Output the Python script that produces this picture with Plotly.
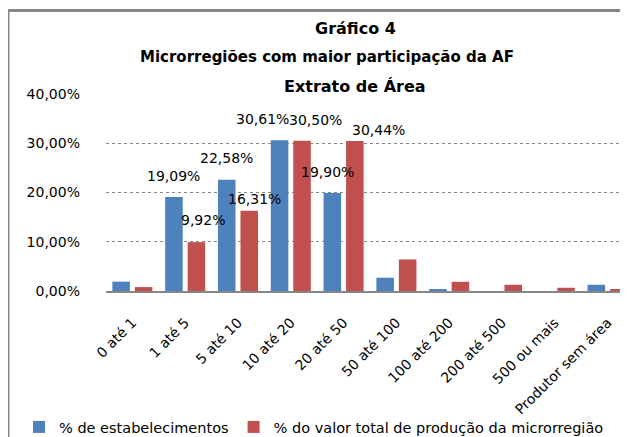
import plotly.graph_objects as go

categories = ["0 até 1", "1 até 5", "5 até 10", "10 até 20", "20 até 50",
              "50 até 100", "100 até 200", "200 até 500", "500 ou mais", "Produtor sem área"]
estabelecimentos = [0.019, 0.1909, 0.2258, 0.3061, 0.1990, 0.027, 0.0026, 0.0, 0.0, 0.0127]
valor_producao = [0.008, 0.0992, 0.1631, 0.3050, 0.3044, 0.064, 0.0187, 0.0127, 0.0066, 0.0026]
series_names = ["% de estabelecimentos", "% do valor total de produção da microrregião"]
y_ticks = [0, 0.1, 0.2, 0.3, 0.4]
labelled = [1, 2, 3, 4]  # categories whose bars carry data labels
title_lines = ["Gráfico 4", "Microrregiões com maior participação da AF", "Extrato de Área"]

# label offsets in pixels (xshift, yshift) relative to bar top centre
blue_offsets = {1: (0, 21), 2: (0, 22), 3: (-17, 21), 4: (-5, 21)}
red_offsets = {1: (7, 22), 2: (5, 12), 3: (13, 21), 4: (24, 11)}

BLUE = "#4F81BD"
RED = "#C0504D"
FONT = "DejaVu Sans"

# page body margin (browser default) shifts the figure by 8px
OFF = 8
W, H = 628 - OFF, 437 - OFF
# plot-area geometry in window pixels
L, R_EDGE, TOP, BOT = 106, 628, 94, 291
PW, PH = R_EDGE - L, BOT - TOP


def px_x(x):
    return (x - L) / PW


def px_y(y):
    return (BOT - y) / PH


fig = go.Figure()
fig.add_trace(go.Bar(x=categories, y=estabelecimentos, name=series_names[0],
                     marker=dict(color=BLUE, line=dict(width=0))))
fig.add_trace(go.Bar(x=categories, y=valor_producao, name=series_names[1],
                     marker=dict(color=RED, line=dict(width=0))))

annotations = []
bar_half = 11.25
for i in labelled:
    dx, dy = blue_offsets[i]
    annotations.append(dict(x=categories[i], y=estabelecimentos[i], xref="x", yref="y",
                            text=f"{estabelecimentos[i]*100:.2f}%".replace(".", ","),
                            showarrow=False, xshift=-bar_half + dx, yshift=dy,
                            font=dict(family=FONT, size=14, color="#000000")))
    dx, dy = red_offsets[i]
    annotations.append(dict(x=categories[i], y=valor_producao[i], xref="x", yref="y",
                            text=f"{valor_producao[i]*100:.2f}%".replace(".", ","),
                            showarrow=False, xshift=bar_half + dx, yshift=dy,
                            font=dict(family=FONT, size=14, color="#000000")))

title_pos = [(355, 28, 16), (327, 57, 15), (355, 86, 16)]
for line, (px, py, fs) in zip(title_lines, title_pos):
    annotations.append(dict(text=f"<b>{line}</b>", xref="paper", yref="paper",
                            x=px_x(px), y=px_y(py),
                            xanchor="center", yanchor="middle", showarrow=False,
                            font=dict(family=FONT, size=fs, color="#000000")))

fig.update_layout(
    width=W, height=H,
    margin=dict(l=L - OFF, r=0, t=TOP - OFF, b=H - (BOT - OFF), pad=0, autoexpand=False),
    paper_bgcolor="white", plot_bgcolor="white",
    barmode="group", bargap=0.148, bargroupgap=0.22,
    separators=",.",
    showlegend=True,
    legend=dict(orientation="h", xref="paper", yref="paper",
                x=px_x(19), y=px_y(427), xanchor="left", yanchor="middle",
                font=dict(family=FONT, size=14.5, color="#000000"),
                itemwidth=30, tracegroupgap=0, bgcolor="rgba(0,0,0,0)"),
    annotations=annotations,
    shapes=[dict(type="rect", xref="paper", yref="paper",
                 x0=px_x(8), x1=1.2, y0=-1.0, y1=px_y(10.5),
                 line=dict(color="#868686", width=3), fillcolor="rgba(0,0,0,0)",
                 layer="above")],
)
fig.update_xaxes(range=[-0.5, 9.5 - 6 / 52.8], showline=True, linecolor="#868686", linewidth=2,
                 tickangle=-45, ticks="", ticklabelstandoff=16, automargin=False,
                 tickfont=dict(family=FONT, size=14, color="#000000"), showgrid=False)
fig.update_yaxes(range=[0, 0.4], tickvals=y_ticks, tickformat=".2%", automargin=False,
                 showgrid=True, gridcolor="#868686", griddash="dot", gridwidth=1,
                 zeroline=False, showline=False, ticks="", ticklabelstandoff=25,
                 tickfont=dict(family=FONT, size=14, color="#000000"))

fig.write_html("out.html")
